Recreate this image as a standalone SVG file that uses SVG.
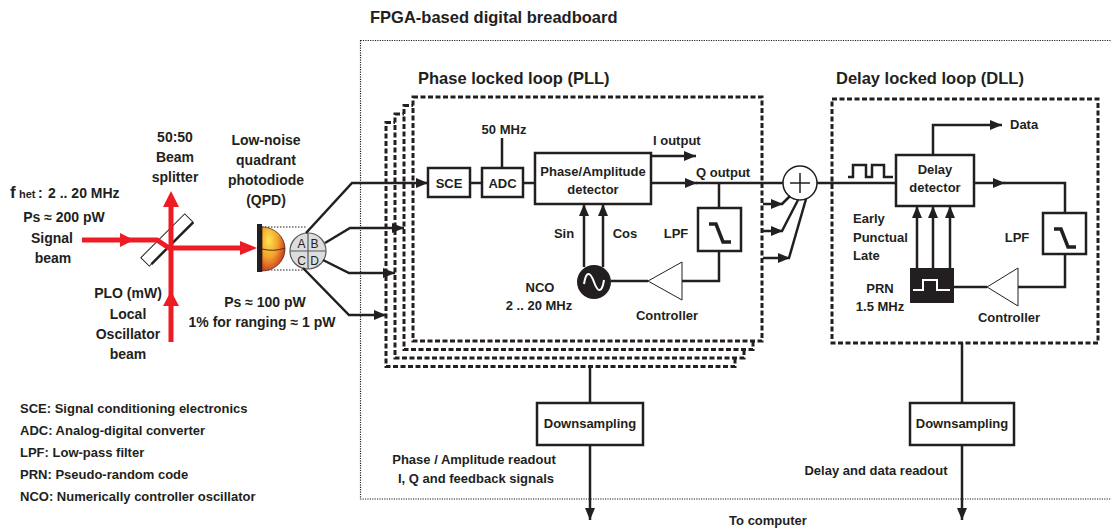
<svg xmlns="http://www.w3.org/2000/svg" width="1111" height="532" viewBox="0 0 1111 532">
  <defs>
    <style>
      text{font-family:"Liberation Sans",Arial,sans-serif;font-weight:bold;font-size:13px;fill:#231f20}
      .t16{font-size:16.5px}
      .t14{font-size:14px}
      .mid{text-anchor:middle}
      .quad{font-size:12px;font-weight:normal}
      .box{fill:#fff;stroke:#231f20;stroke-width:2.5}
      .wire{fill:none;stroke:#231f20;stroke-width:2.5}
      .loop{fill:#fff;stroke:#231f20;stroke-width:3;stroke-dasharray:5 2.5}
      .board{fill:none;stroke:#231f20;stroke-width:1.2;stroke-dasharray:1.2 1.2}
      .beam{fill:none;stroke:#ed1c24;stroke-width:5}
      .redhead{fill:#ed1c24}
      .amp{fill:#fff;stroke:#231f20;stroke-width:1}
      .lpfsym{fill:none;stroke:#231f20;stroke-width:3.5;stroke-linejoin:miter}
      .wave{fill:none;stroke:#fff;stroke-width:2}
      .guide{fill:none;stroke:#231f20;stroke-width:1;stroke-dasharray:1.5 1.5}
    </style>
    <marker id="arr" markerUnits="userSpaceOnUse" viewBox="0 0 12 10" markerWidth="12" markerHeight="10" refX="12" refY="5" orient="auto">
      <path d="M0,0 L12,5 L0,10 Z" fill="#231f20"/>
    </marker>
    <radialGradient id="sphereFill" cx="0.3" cy="0.3" r="0.8">
      <stop offset="0" stop-color="#fbe44f"/>
      <stop offset="0.5" stop-color="#f2a12b"/>
      <stop offset="1" stop-color="#c3271f"/>
    </radialGradient>
  </defs>

  <!-- FPGA board outline and title -->
  <g id="fpga">
    <rect class="board" x="360.5" y="40.5" width="760" height="458.5"/>
    <text class="t16" x="370" y="23">FPGA-based digital breadboard</text>
  </g>

  <!-- optical front end -->
  <g id="optics">
    <text x="10" y="198" style="font-size:17px">f</text>
    <text x="19" y="198" style="font-size:11px">het</text>
    <text class="t14" x="38" y="198">:</text>
    <text class="t14" x="48" y="198">2 .. 20 MHz</text>
    <text class="t14 mid" x="64" y="222">Ps ≈ 200 pW</text>
    <text class="t14 mid" x="52" y="243">Signal</text>
    <text class="t14 mid" x="53" y="263">beam</text>

    <text class="t14 mid" x="175" y="142">50:50</text>
    <text class="t14 mid" x="175" y="162">Beam</text>
    <text class="t14 mid" x="175" y="182">splitter</text>

    <text class="t14 mid" x="128" y="298">PLO (mW)</text>
    <text class="t14 mid" x="128" y="319">Local</text>
    <text class="t14 mid" x="128" y="339">Oscillator</text>
    <text class="t14 mid" x="128" y="359">beam</text>

    <!-- beam splitter plate -->
    <g transform="rotate(-45 167 240)">
      <rect x="136" y="234" width="62" height="12" fill="#fff" stroke="#231f20" stroke-width="1"/>
      <line x1="139" y1="246" x2="198" y2="246" stroke="#231f20" stroke-width="2.5"/>
    </g>

    <!-- laser beams -->
    <path class="beam" d="M82,240 H157 L169,248 H244"/>
    <path class="beam" d="M171,204 V342"/>
    <polygon class="redhead" points="120,233 134,240 120,247"/>
    <polygon class="redhead" points="240,241 257,248 240,255"/>
    <polygon class="redhead" points="171,191 179,207 163,207"/>
    <polygon class="redhead" points="171,291 179,306 163,306"/>
  </g>

  <!-- quadrant photodiode -->
  <g id="qpd">
    <text class="t14 mid" x="266" y="145">Low-noise</text>
    <text class="t14 mid" x="266" y="165">quadrant</text>
    <text class="t14 mid" x="266" y="185">photodiode</text>
    <text class="t14 mid" x="266" y="205">(QPD)</text>
    <path class="guide" d="M262,227 H306 M262,270 H306"/>
    <path d="M262,227 A23 22 0 0 1 262,271 Z" fill="url(#sphereFill)" stroke="#5a2a10" stroke-width="0.8"/>
    <path d="M262,249 Q274,252 285,248" fill="none" stroke="#5a2a10" stroke-width="1"/>
    <rect x="257" y="224" width="5" height="48" fill="#231f20"/>
    <circle cx="308" cy="251" r="18" fill="#dcdddf" stroke="#58595b" stroke-width="1.2"/>
    <path d="M308,233 V269 M290,251 H326" stroke="#58595b" stroke-width="1.2"/>
    <text x="301.5" y="248" class="mid quad">A</text>
    <text x="314.5" y="248" class="mid quad">B</text>
    <text x="301.5" y="265" class="mid quad">C</text>
    <text x="314.5" y="265" class="mid quad">D</text>
    <text class="t14 mid" x="265" y="307">Ps ≈ 100 pW</text>
    <text class="t14 mid" x="262" y="327">1% for ranging ≈ 1 pW</text>
  </g>

  <!-- four stacked PLL channels -->
  <g id="pll">
    <rect class="loop" x="386" y="122.5" width="349" height="244"/>
    <rect class="loop" x="395" y="114" width="349" height="244"/>
    <rect class="loop" x="404" y="105.5" width="349" height="244"/>
    <rect class="loop" x="413" y="97" width="349" height="244"/>
    <text class="t16" x="418" y="84">Phase locked loop (PLL)</text>
  </g>

  <g id="sce">
    <rect class="box" x="428" y="168" width="42" height="29"/>
    <text class="mid" x="449" y="188">SCE</text>
  </g>
  <g id="adc">
    <rect class="box" x="482" y="168" width="41" height="29"/>
    <text class="mid" x="502.5" y="188">ADC</text>
    <text class="mid" x="504" y="134">50 MHz</text>
  </g>
  <g id="phase-detector">
    <rect class="box" x="535" y="153" width="116" height="51"/>
    <text class="mid" x="593" y="176">Phase/Amplitude</text>
    <text class="mid" x="593" y="194">detector</text>
    <text x="653" y="145">I output</text>
    <text x="696" y="177">Q output</text>
  </g>
  <g id="pll-lpf">
    <rect class="box" x="698" y="208" width="43" height="43"/>
    <path class="lpfsym" d="M709,224 H716 L723,242 H731"/>
    <text class="mid" x="676" y="238">LPF</text>
  </g>
  <g id="pll-controller">
    <polygon class="amp" points="682,262 682,300 648,281"/>
    <text class="mid" x="667" y="320">Controller</text>
  </g>
  <g id="nco">
    <circle cx="594" cy="282" r="17" fill="#231f20"/>
    <path class="wave" d="M584,284 C586,271 590,271 594,282 C598,293 602,293 604,280"/>
    <text class="mid" x="540" y="292">NCO</text>
    <text class="mid" x="539" y="310">2 .. 20 MHz</text>
    <text class="mid" x="564" y="238">Sin</text>
    <text class="mid" x="625" y="238">Cos</text>
  </g>

  <!-- summing junction -->
  <g id="sum">
    <circle cx="800" cy="183" r="17" fill="#fff" stroke="#231f20" stroke-width="1.5"/>
    <path d="M790,183 H810 M800,173 V193" stroke="#231f20" stroke-width="1.5"/>
  </g>

  <!-- delay locked loop -->
  <g id="dll">
    <rect class="loop" x="832" y="99" width="266" height="244"/>
    <text class="t16" x="836" y="84">Delay locked loop (DLL)</text>
  </g>
  <g id="delay-detector">
    <rect class="box" x="896" y="155" width="78" height="51"/>
    <text class="mid" x="935" y="174">Delay</text>
    <text class="mid" x="935" y="192">detector</text>
    <text x="1010" y="129">Data</text>
    <text x="853" y="223">Early</text>
    <text x="853" y="242">Punctual</text>
    <text x="853" y="260">Late</text>
  </g>
  <g id="dll-lpf">
    <rect class="box" x="1043" y="213" width="43" height="41"/>
    <path class="lpfsym" d="M1054,229 H1061 L1068,247 H1076"/>
    <text class="mid" x="1017" y="242">LPF</text>
  </g>
  <g id="dll-controller">
    <polygon class="amp" points="1018,268 1018,306 987,287"/>
    <text class="mid" x="1009" y="322">Controller</text>
  </g>
  <g id="prn">
    <rect x="910" y="268" width="44" height="35" fill="#231f20"/>
    <path class="wave" d="M913,290 H923 V280 H937 V290 H950"/>
    <text class="mid" x="880" y="293">PRN</text>
    <text class="mid" x="880" y="311">1.5 MHz</text>
  </g>

  <!-- readout chain -->
  <g id="pll-downsampling">
    <rect class="box" x="537" y="403" width="106" height="42"/>
    <text class="mid" x="590" y="428">Downsampling</text>
    <text class="mid" x="474" y="464">Phase / Amplitude readout</text>
    <text class="mid" x="476" y="483">I, Q and feedback signals</text>
  </g>
  <g id="dll-downsampling">
    <rect class="box" x="910" y="403" width="104" height="42"/>
    <text class="mid" x="962" y="428">Downsampling</text>
    <text class="mid" x="876" y="475">Delay and data readout</text>
  </g>
  <text class="mid" x="768" y="525">To computer</text>

  <!-- abbreviations -->
  <g id="legend">
    <text x="20" y="413">SCE: Signal conditioning electronics</text>
    <text x="20" y="435">ADC: Analog-digital converter</text>
    <text x="20" y="457">LPF: Low-pass filter</text>
    <text x="20" y="479">PRN: Pseudo-random code</text>
    <text x="20" y="501">NCO: Numerically controller oscillator</text>
  </g>

  <!-- signal connections -->
  <g id="connectors">
    <path class="wire" d="M306,233 L352,183 H428" marker-end="url(#arr)"/>
    <path class="wire" d="M325,243 L350,228 H404" marker-end="url(#arr)"/>
    <path class="wire" d="M323,260 L349,273 H395" marker-end="url(#arr)"/>
    <path class="wire" d="M303,268 L349,315 H386" marker-end="url(#arr)"/>
    <path class="wire" d="M470,183 H482 M523,183 H535 M502,138 V168"/>
    <path class="wire" d="M651,156 H696" marker-end="url(#arr)"/>
    <path class="wire" d="M651,183 H697" marker-end="url(#arr)"/>
    <path class="wire" d="M696,183 H783"/>
    <path class="wire" d="M719,183 V208 M719,251 V281 H682 M648,281 H611"/>
    <path class="wire" d="M584,267 V204" marker-end="url(#arr)"/>
    <path class="wire" d="M603,267 V204" marker-end="url(#arr)"/>
    <path class="wire" d="M763,204 H783" marker-end="url(#arr)"/>
    <path class="wire" d="M782,204 L790,196"/>
    <path class="wire" d="M763,231 H783" marker-end="url(#arr)"/>
    <path class="wire" d="M782,231 L798,200"/>
    <path class="wire" d="M763,258 H790" marker-end="url(#arr)"/>
    <path class="wire" d="M789,258 L806,199"/>
    <path class="wire" d="M817,183 H896"/>
    <path class="wire" d="M848,177 H853 V165 H866 V177 H872 V165 H884 V177 H893"/>
    <path class="wire" d="M933,155 V125 H1002" marker-end="url(#arr)"/>
    <path class="wire" d="M974,183 H1005" marker-end="url(#arr)"/>
    <path class="wire" d="M1004,183 H1065 V213 M1065,254 V287 H1018 M987,287 H954"/>
    <path class="wire" d="M917,268 V206" marker-end="url(#arr)"/>
    <path class="wire" d="M933,268 V206" marker-end="url(#arr)"/>
    <path class="wire" d="M950,268 V206" marker-end="url(#arr)"/>
    <path class="wire" d="M590,367 V403"/>
    <path class="wire" d="M590,445 V520" marker-end="url(#arr)"/>
    <path class="wire" d="M962,343 V403"/>
    <path class="wire" d="M962,445 V520" marker-end="url(#arr)"/>
  </g>
</svg>
